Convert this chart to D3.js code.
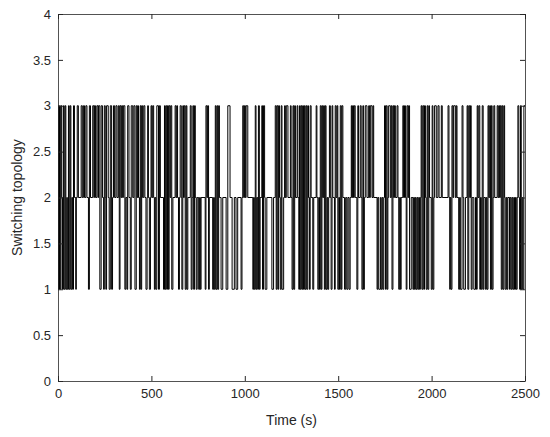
<!DOCTYPE html>
<html>
<head>
<meta charset="utf-8">
<script src="https://cdn.jsdelivr.net/npm/d3@7"></script>
<style>
  body { margin: 0; background: #fff; }
  svg text { font-family: "Liberation Sans", Arial, sans-serif; fill: #262626; }
  .axis path, .axis line { stroke: #262626; }
</style>
</head>
<body>
<div id="chart"></div>
<script>
// switching instants (s) and the topology entered at each of them
var switchTimes = [
  0, 3, 8, 12, 16, 20, 24, 29, 33, 38, 42, 47, 50, 56, 60, 65, 69, 74, 78, 83, 88, 95, 98, 103, 109, 124, 130, 136, 142, 149, 155, 163, 168, 174, 186, 192, 195, 201, 208, 214, 217, 224, 231, 238, 244, 248, 253,
  256, 260, 269, 274, 280, 287, 292, 297, 303, 310, 316, 323, 328, 332, 337, 341, 346, 350, 358, 363, 369, 373, 380, 387, 392, 400, 406, 412, 419, 424, 427, 431, 436, 440, 444, 448, 453, 459, 465, 471, 477, 480, 484, 489, 495, 498, 502, 507, 512,
  516, 520, 524, 529, 538, 543, 548, 565, 570, 573, 577, 582, 586, 591, 595, 600, 604, 609, 615, 627, 632, 636, 640, 645, 650, 654, 660, 663, 668, 672, 676, 681, 686, 690, 695, 708, 713, 718, 722, 726, 731, 735, 740, 745, 753, 758, 762, 766,
  788, 792, 797, 801, 806, 810, 828, 833, 837, 842, 846, 851, 855, 860, 864, 873, 882, 900, 909, 921, 932, 944, 953, 962, 980, 985, 989, 994, 998, 1003, 1007, 1016, 1043,
  1047, 1051, 1056, 1060, 1064, 1069, 1073, 1078, 1082, 1091, 1095, 1100, 1106, 1109, 1118, 1145, 1154, 1163, 1168, 1172, 1177, 1181, 1186, 1190, 1195, 1199, 1208, 1213, 1217, 1222, 1231, 1244, 1248, 1253, 1258, 1262, 1267, 1271, 1280, 1284, 1289, 1293, 1297, 1302, 1306,
  1310, 1314, 1319, 1323, 1328, 1332, 1337, 1341, 1346, 1350, 1355, 1364, 1369, 1382, 1386, 1391, 1396, 1400, 1404, 1409, 1413, 1417, 1422, 1426, 1431, 1435, 1440, 1444, 1449, 1453, 1458, 1462, 1467, 1471, 1480, 1484, 1489, 1494, 1498, 1503, 1507, 1511, 1516, 1520, 1525, 1534, 1540, 1546, 1552, 1558, 1564, 1570,
  1573, 1577, 1582, 1586, 1591, 1600, 1605, 1609, 1618, 1623, 1627, 1632, 1636, 1640, 1645, 1654, 1663, 1668, 1672, 1681, 1686, 1690, 1708, 1712, 1717, 1726, 1730, 1735, 1739, 1744, 1748, 1753, 1757, 1762, 1766, 1770, 1779, 1784, 1788, 1793, 1797, 1801, 1806, 1815, 1820, 1824, 1829, 1833,
  1837, 1846, 1850, 1855, 1860, 1864, 1868, 1873, 1877, 1882, 1891, 1900, 1904, 1908, 1913, 1917, 1922, 1926, 1931, 1935, 1940, 1944, 1948, 1953, 1958, 1962, 1967, 1971, 1976, 1980, 1985, 1989, 1998, 2003, 2007, 2012, 2016, 2025, 2034, 2040, 2052, 2057, 2088, 2093, 2097,
  2100, 2104, 2109, 2114, 2118, 2127, 2132, 2136, 2145, 2150, 2154, 2163, 2168, 2172, 2181, 2190, 2194, 2199, 2204, 2208, 2212, 2217, 2226, 2235, 2240, 2244, 2248, 2253, 2258, 2262, 2266, 2271, 2276, 2280, 2288, 2293, 2297, 2302, 2306, 2311, 2315, 2320, 2324, 2329, 2333, 2338, 2351, 2356, 2360,
  2364, 2368, 2373, 2378, 2382, 2387, 2391, 2394, 2400, 2404, 2408, 2417, 2421, 2426, 2431, 2435, 2440, 2444, 2449, 2453, 2458, 2462, 2467, 2471, 2476, 2480, 2485, 2489, 2494, 2500
];
var topology = [
  3, 1, 3, 1, 3, 2, 1, 3, 1, 3, 1, 2, 1, 3, 1, 3, 1, 2, 1, 3, 2, 1, 2, 3, 2, 3, 2, 3, 2, 3, 2, 1, 3, 2, 3, 2, 3, 2, 3, 2, 3, 1, 3, 2, 1, 3, 2,
  1, 3, 2, 1, 3, 1, 2, 3, 2, 3, 2, 3, 1, 3, 2, 3, 2, 3, 1, 2, 1, 3, 2, 1, 3, 2, 3, 1, 3, 2, 3, 2, 1, 3, 1, 3, 2, 3, 2, 1, 2, 3, 2, 1, 2, 3, 2, 3, 2,
  1, 2, 1, 3, 1, 3, 2, 1, 3, 1, 3, 1, 3, 1, 3, 2, 3, 1, 2, 3, 2, 3, 2, 1, 2, 3, 2, 1, 3, 2, 3, 1, 3, 1, 2, 3, 1, 2, 3, 1, 3, 2, 1, 2, 1, 2, 1, 2,
  1, 3, 2, 3, 1, 2, 1, 2, 1, 3, 1, 3, 1, 3, 2, 1, 2, 1, 3, 2, 1, 2, 1, 2, 1, 2, 3, 2, 3, 2, 3, 2, 1,
  2, 1, 3, 1, 2, 1, 3, 1, 2, 3, 1, 3, 2, 1, 2, 1, 2, 3, 1, 3, 1, 3, 2, 1, 3, 1, 2, 3, 2, 3, 2, 3, 2, 1, 3, 1, 3, 2, 3, 2, 1, 3, 1, 3, 1,
  3, 1, 3, 1, 3, 1, 3, 2, 1, 3, 2, 1, 2, 3, 2, 1, 2, 1, 3, 1, 3, 2, 3, 1, 3, 1, 2, 1, 2, 3, 2, 1, 3, 2, 1, 3, 2, 3, 1, 2, 1, 3, 1, 3, 2, 1, 2, 1, 2, 1, 2, 3,
  2, 3, 2, 3, 2, 1, 3, 2, 3, 2, 1, 3, 1, 2, 3, 2, 3, 2, 3, 2, 3, 2, 1, 2, 1, 2, 1, 2, 1, 2, 3, 1, 3, 1, 2, 3, 2, 3, 1, 3, 2, 3, 2, 3, 2, 1, 2, 1,
  2, 3, 2, 3, 2, 1, 3, 2, 3, 1, 2, 1, 2, 1, 2, 1, 2, 1, 2, 1, 2, 3, 1, 3, 1, 3, 2, 1, 3, 1, 3, 2, 1, 3, 1, 2, 3, 2, 3, 2, 3, 2, 3, 2, 1,
  2, 1, 3, 2, 3, 2, 3, 2, 1, 2, 1, 3, 2, 1, 2, 3, 1, 3, 2, 3, 1, 2, 1, 2, 1, 3, 2, 3, 1, 2, 1, 3, 1, 2, 1, 2, 1, 3, 2, 3, 1, 3, 1, 2, 3, 2, 3, 2, 3,
  2, 3, 1, 3, 1, 3, 2, 1, 2, 1, 2, 1, 2, 1, 2, 1, 2, 1, 2, 1, 2, 3, 2, 1, 3, 1, 2, 1, 3, 3
];
var xTicks = [0, 500, 1000, 1500, 2000, 2500];
var yTicks = [0, 0.5, 1, 1.5, 2, 2.5, 3, 3.5, 4];

var W = 550, H = 437;
var margin = {top: 14, right: 25, bottom: 56, left: 58},
    width = W - margin.left - margin.right,
    height = H - margin.top - margin.bottom;

var svg = d3.select("#chart").append("svg")
    .attr("width", W)
    .attr("height", H)
  .append("g")
    .attr("transform", "translate(" + margin.left + "," + margin.top + ")");

var x = d3.scaleLinear().domain([0, 2500]).range([0, width]);
var y = d3.scaleLinear().domain([0, 4]).range([height, 0]);

var points = switchTimes.map(function(t, i) { return [t, topology[i]]; });

var line = d3.line()
    .x(function(d) { return x(d[0]); })
    .y(function(d) { return y(d[1]); })
    .curve(d3.curveStepAfter);

svg.append("path")
    .datum(points)
    .attr("fill", "none")
    .attr("stroke", "#000")
    .attr("stroke-width", 1)
    .attr("d", line);

// box with inward ticks on all four sides
svg.append("g")
    .attr("class", "axis")
    .attr("transform", "translate(0," + height + ")")
    .call(d3.axisBottom(x).tickValues(xTicks).tickSizeInner(-5).tickSizeOuter(0).tickPadding(8).tickFormat(d3.format("d")));
svg.append("g")
    .attr("class", "axis")
    .call(d3.axisTop(x).tickValues(xTicks).tickSizeInner(-5).tickSizeOuter(0).tickFormat(""));
svg.append("g")
    .attr("class", "axis")
    .call(d3.axisLeft(y).tickValues(yTicks).tickSizeInner(-5).tickSizeOuter(0).tickPadding(7).tickFormat(d3.format("")));
svg.append("g")
    .attr("class", "axis")
    .attr("transform", "translate(" + width + ",0)")
    .call(d3.axisRight(y).tickValues(yTicks).tickSizeInner(-5).tickSizeOuter(0).tickFormat(""));

svg.selectAll(".axis text").style("font-size", "13px");
svg.selectAll(".axis .domain").attr("stroke-width", 0.8);

svg.append("text")
    .attr("x", width / 2)
    .attr("y", height + 44)
    .attr("text-anchor", "middle")
    .style("font-size", "14px")
    .text("Time (s)");

svg.append("text")
    .attr("transform", "rotate(-90)")
    .attr("x", -height / 2)
    .attr("y", -36)
    .attr("text-anchor", "middle")
    .style("font-size", "14px")
    .text("Switching topology");
</script>
</body>
</html>
